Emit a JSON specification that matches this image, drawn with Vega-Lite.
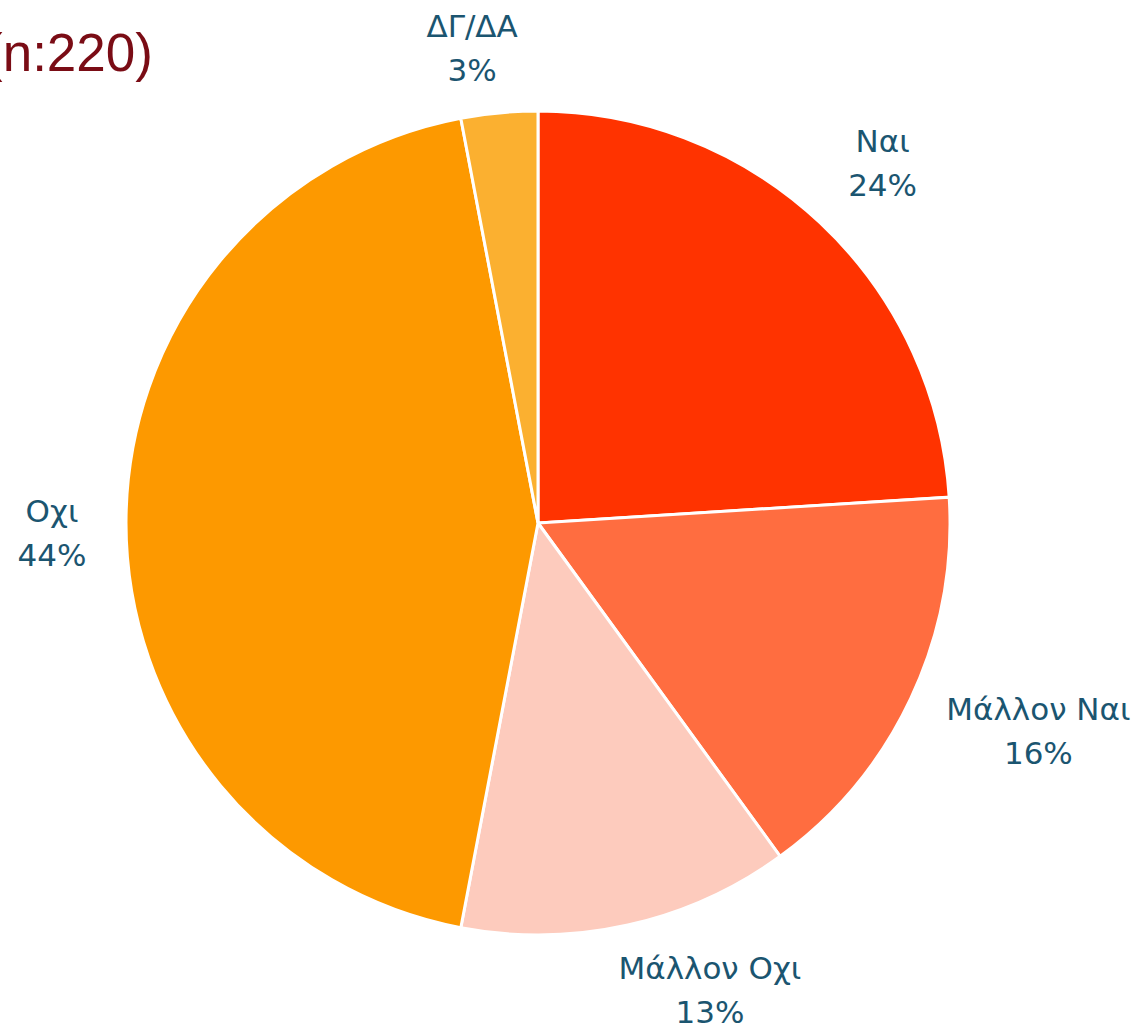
{
  "$schema": "https://vega.github.io/schema/vega-lite/v6.json",
  "width": 1076,
  "height": 1018,
  "autosize": {"type": "none"},
  "padding": {"left": 0, "top": 14, "right": 61, "bottom": 0},
  "background": "white",
  "view": {"stroke": null},
  "title": {
    "text": "(n:220)",
    "anchor": "start",
    "frame": "group",
    "orient": "top",
    "offset": 0,
    "baseline": "alphabetic",
    "dx": -15,
    "dy": 215,
    "font": "Liberation Sans",
    "fontSize": 53,
    "fontWeight": "normal",
    "color": "#7a0c15"
  },
  "data": {
    "values": [
      {"i": 1, "cat": "Ναι", "value": 24, "label": "Ναι\n24%"},
      {"i": 2, "cat": "Μάλλον Ναι", "value": 16, "label": "Μάλλον Ναι\n16%"},
      {"i": 3, "cat": "Μάλλον Οχι", "value": 13, "label": "Μάλλον Οχι\n13%"},
      {"i": 4, "cat": "Οχι", "value": 44, "label": "Οχι\n44%"},
      {"i": 5, "cat": "ΔΓ/ΔΑ", "value": 3, "label": "ΔΓ/ΔΑ\n3%"}
    ]
  },
  "encoding": {
    "theta": {"field": "value", "type": "quantitative", "stack": true},
    "order": {"field": "i", "type": "quantitative"}
  },
  "layer": [
    {
      "mark": {"type": "arc", "outerRadius": 412, "stroke": "white", "strokeWidth": 3},
      "encoding": {
        "color": {
          "field": "cat",
          "type": "nominal",
          "legend": null,
          "scale": {
            "domain": ["Ναι", "Μάλλον Ναι", "Μάλλον Οχι", "Οχι", "ΔΓ/ΔΑ"],
            "range": ["#ff3300", "#ff6d40", "#fdcbbd", "#fd9900", "#fbb030"]
          }
        }
      }
    },
    {
      "mark": {"type": "text", "radius": 499, "dx": 3, "dy": -16, "font": "DejaVu Sans", "fontSize": 31, "lineHeight": 44, "lineBreak": "\n", "color": "#1b5570", "align": "center", "baseline": "middle"},
      "encoding": {"text": {"condition": {"test": "datum.cat === 'Ναι'", "field": "label"}, "value": ""}}
    },
    {
      "mark": {"type": "text", "radius": 553, "dy": -47, "font": "DejaVu Sans", "fontSize": 31, "lineHeight": 44, "lineBreak": "\n", "color": "#1b5570", "align": "center", "baseline": "middle"},
      "encoding": {"text": {"condition": {"test": "datum.cat === 'Μάλλον Ναι'", "field": "label"}, "value": ""}}
    },
    {
      "mark": {"type": "text", "radius": 481, "dx": 67, "dy": -22, "font": "DejaVu Sans", "fontSize": 31, "lineHeight": 44, "lineBreak": "\n", "color": "#1b5570", "align": "center", "baseline": "middle"},
      "encoding": {"text": {"condition": {"test": "datum.cat === 'Μάλλον Οχι'", "field": "label"}, "value": ""}}
    },
    {
      "mark": {"type": "text", "radius": 486, "dy": -10, "font": "DejaVu Sans", "fontSize": 31, "lineHeight": 44, "lineBreak": "\n", "color": "#1b5570", "align": "center", "baseline": "middle"},
      "encoding": {"text": {"condition": {"test": "datum.cat === 'Οχι'", "field": "label"}, "value": ""}}
    },
    {
      "mark": {"type": "text", "radius": 477, "dx": -21, "dy": -20, "font": "DejaVu Sans", "fontSize": 31, "lineHeight": 44, "lineBreak": "\n", "color": "#1b5570", "align": "center", "baseline": "middle"},
      "encoding": {"text": {"condition": {"test": "datum.cat === 'ΔΓ/ΔΑ'", "field": "label"}, "value": ""}}
    }
  ]
}
